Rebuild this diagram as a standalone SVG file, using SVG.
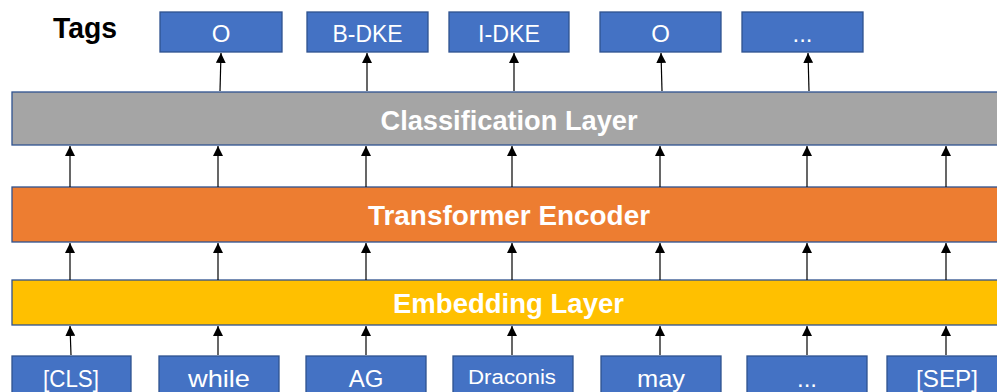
<svg xmlns="http://www.w3.org/2000/svg" width="997" height="392" viewBox="0 0 997 392">
<defs>
<marker id="ah" viewBox="0 0 10 10" refX="10" refY="5" markerWidth="10" markerHeight="10" markerUnits="userSpaceOnUse" orient="auto">
<path d="M0,0 L10,5 L0,10 Z" fill="#000"/>
</marker>
</defs>
<style>
.box{fill:#4472C4;stroke:#2F528F;stroke-width:1.3}
.lbl{font-family:"Liberation Sans",Arial,sans-serif;fill:#fff;font-size:24px;text-anchor:middle}
.layer{stroke:#2F528F;stroke-width:1.3}
.ltxt{font-family:"Liberation Sans",Arial,sans-serif;font-weight:bold;fill:#fff;font-size:28px;text-anchor:middle}
.arr{stroke:#000;stroke-width:1.2;fill:none}
</style>
<rect width="997" height="392" fill="#fff"/>
<text x="85" y="38" style="font-family:'Liberation Sans',Arial,sans-serif;font-weight:bold;font-size:30px;text-anchor:middle" textLength="64" lengthAdjust="spacingAndGlyphs">Tags</text>
<g id="tag1"><rect class="box" x="160" y="12" width="122" height="40"/><text class="lbl" x="221" y="42">O</text></g>
<g id="tag2"><rect class="box" x="307" y="12" width="121" height="40"/><text class="lbl" x="367.5" y="42" textLength="70" lengthAdjust="spacingAndGlyphs">B-DKE</text></g>
<g id="tag3"><rect class="box" x="449" y="12" width="120" height="40"/><text class="lbl" x="509" y="42" textLength="62" lengthAdjust="spacingAndGlyphs">I-DKE</text></g>
<g id="tag4"><rect class="box" x="600" y="12" width="121" height="40"/><text class="lbl" x="660.5" y="42">O</text></g>
<g id="tag5"><rect class="box" x="742" y="12" width="121" height="40"/><text class="lbl" x="802.5" y="42">...</text></g>
<g id="classification"><rect class="layer" fill="#A5A5A5" x="12" y="92" width="990" height="53"/><text class="ltxt" x="509" y="130" textLength="257" lengthAdjust="spacingAndGlyphs">Classification Layer</text></g>
<g id="transformer"><rect class="layer" fill="#ED7D31" x="12" y="187" width="990" height="55"/><text class="ltxt" x="509" y="225" textLength="282" lengthAdjust="spacingAndGlyphs">Transformer Encoder</text></g>
<g id="embedding"><rect class="layer" fill="#FFC000" x="12" y="280" width="990" height="45"/><text class="ltxt" x="508.5" y="313" textLength="231" lengthAdjust="spacingAndGlyphs">Embedding Layer</text></g>
<g id="tok1"><rect class="box" x="12" y="356" width="119" height="40"/><text class="lbl" x="71" y="387" textLength="56" lengthAdjust="spacingAndGlyphs">[CLS]</text></g>
<g id="tok2"><rect class="box" x="159" y="356" width="120" height="40"/><text class="lbl" x="219" y="387" textLength="62" lengthAdjust="spacingAndGlyphs">while</text></g>
<g id="tok3"><rect class="box" x="306" y="356" width="120" height="40"/><text class="lbl" x="366" y="387">AG</text></g>
<g id="tok4"><rect class="box" x="453" y="356" width="120" height="40"/><text class="lbl" x="512" y="384" style="font-size:20px" textLength="88" lengthAdjust="spacingAndGlyphs">Draconis</text></g>
<g id="tok5"><rect class="box" x="601" y="356" width="120" height="40"/><text class="lbl" x="661" y="387" textLength="48" lengthAdjust="spacingAndGlyphs">may</text></g>
<g id="tok6"><rect class="box" x="747" y="356" width="120" height="40"/><text class="lbl" x="807" y="387">...</text></g>
<g id="tok7"><rect class="box" x="887" y="356" width="120" height="40"/><text class="lbl" x="947" y="387" textLength="62" lengthAdjust="spacingAndGlyphs">[SEP]</text></g>
<g id="connectors">
<path class="arr" marker-end="url(#ah)" d="M220,91 L221,53"/>
<path class="arr" marker-end="url(#ah)" d="M367,91 L367,53"/>
<path class="arr" marker-end="url(#ah)" d="M514,91 L514,53"/>
<path class="arr" marker-end="url(#ah)" d="M662,91 L661,53"/>
<path class="arr" marker-end="url(#ah)" d="M809,91 L808,53"/>
<path class="arr" marker-end="url(#ah)" d="M70,187 L70,146"/>
<path class="arr" marker-end="url(#ah)" d="M218,187 L218,146"/>
<path class="arr" marker-end="url(#ah)" d="M366,187 L366,146"/>
<path class="arr" marker-end="url(#ah)" d="M512,187 L512,146"/>
<path class="arr" marker-end="url(#ah)" d="M660,187 L660,146"/>
<path class="arr" marker-end="url(#ah)" d="M807,187 L807,146"/>
<path class="arr" marker-end="url(#ah)" d="M946,187 L946,146"/>
<path class="arr" marker-end="url(#ah)" d="M70,280 L70,243"/>
<path class="arr" marker-end="url(#ah)" d="M218,280 L218,243"/>
<path class="arr" marker-end="url(#ah)" d="M366,280 L366,243"/>
<path class="arr" marker-end="url(#ah)" d="M512,280 L512,243"/>
<path class="arr" marker-end="url(#ah)" d="M660,280 L660,243"/>
<path class="arr" marker-end="url(#ah)" d="M807,280 L807,243"/>
<path class="arr" marker-end="url(#ah)" d="M946,280 L946,243"/>
<path class="arr" marker-end="url(#ah)" d="M71,355 L70,326"/>
<path class="arr" marker-end="url(#ah)" d="M218,355 L218,326"/>
<path class="arr" marker-end="url(#ah)" d="M366,355 L366,326"/>
<path class="arr" marker-end="url(#ah)" d="M512,355 L512,326"/>
<path class="arr" marker-end="url(#ah)" d="M660,355 L660,326"/>
<path class="arr" marker-end="url(#ah)" d="M807,355 L807,326"/>
<path class="arr" marker-end="url(#ah)" d="M946,355 L946,326"/>
</g>
</svg>
